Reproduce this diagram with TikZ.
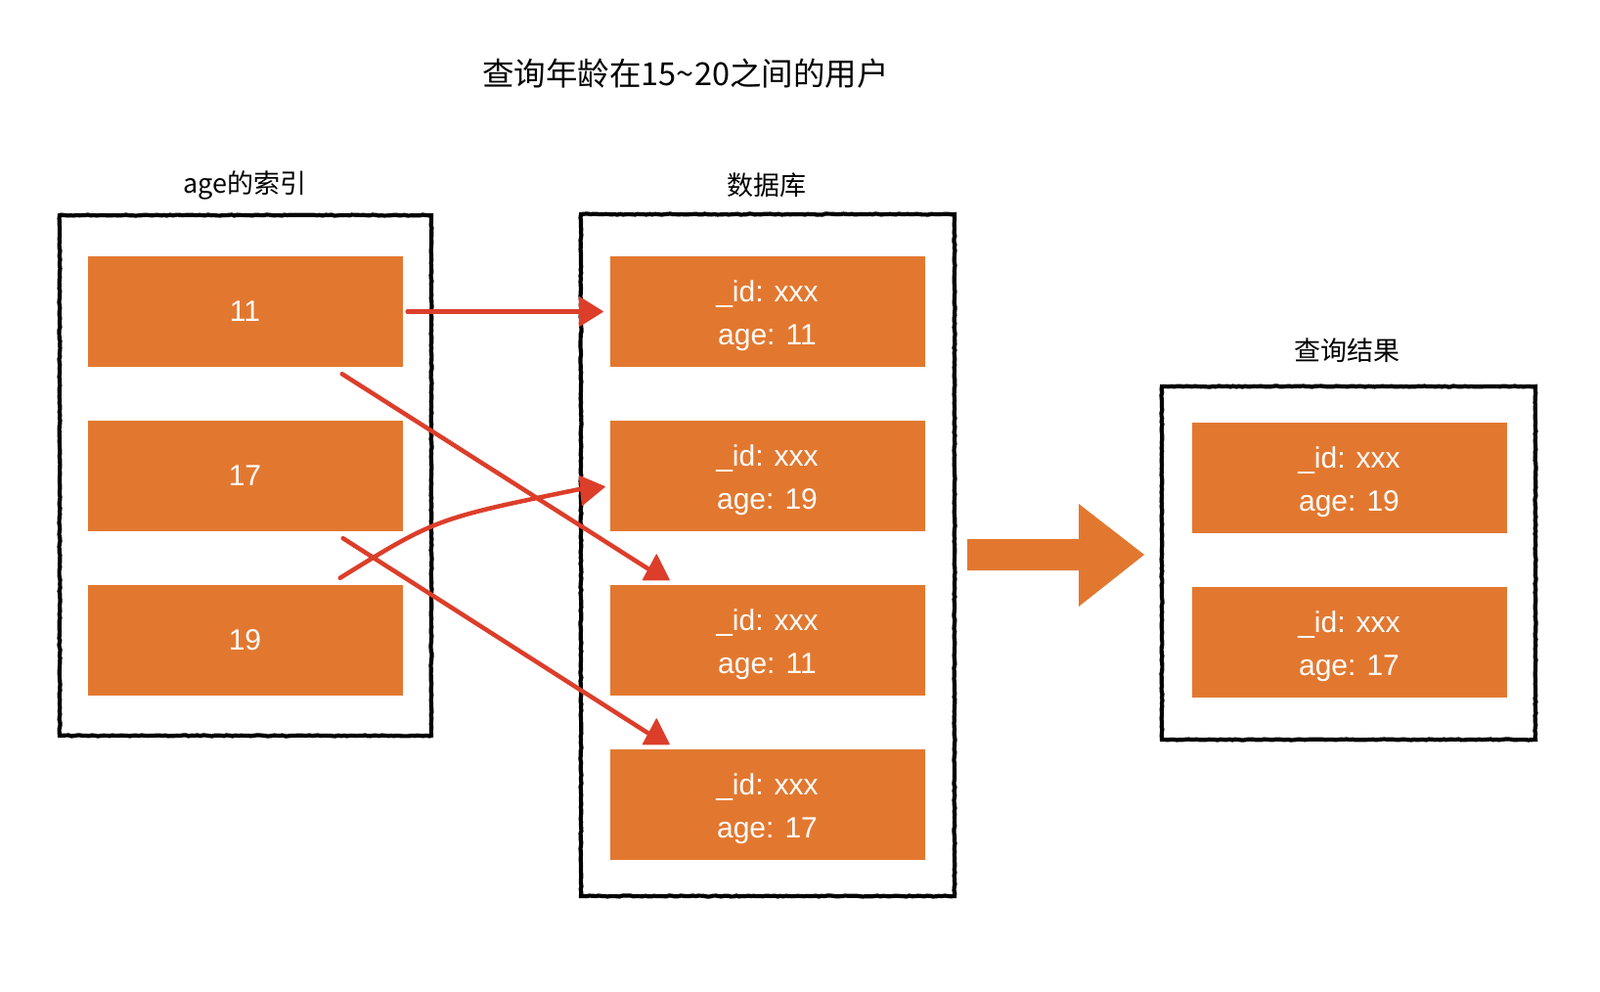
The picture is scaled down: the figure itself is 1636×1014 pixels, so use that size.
\documentclass[tikz,border=0pt]{standalone}
\usepackage{fontspec}
\setmainfont{Liberation Sans}
\newfontfamily\cjk{Noto Sans CJK SC}
\usetikzlibrary{calc,decorations.pathmorphing,arrows.meta}
\definecolor{boxorange}{RGB}{226,120,48}
\definecolor{arrowred}{RGB}{220,62,42}
\newcommand\lowstrut{\rule{0pt}{30pt}}
\begin{document}
\begin{tikzpicture}[x=1pt,y=-1pt,
  rec/.style={fill=boxorange, minimum width=322, minimum height=113, inner sep=0pt,
    text=white, font=\fontsize{30}{44}\selectfont, align=center},
  frame/.style={draw=black, line width=4.2, inner sep=0pt, decorate,
    decoration={random steps, segment length=3pt, amplitude=0.5pt}},
  lbl/.style={font=\cjk\fontsize{27}{30}\selectfont, text=black},
  redline/.style={draw=arrowred, line width=4.5, line cap=round},
  redhead/.style={fill=arrowred, draw=arrowred, line width=1, line join=round}]
\useasboundingbox (0,0) rectangle (1636,1014);
% title
\node[font=\cjk\fontsize{32.5}{36}\selectfont] (title) at (701,75) {查询年龄在15{\char"7E}20之间的用户};
% frames
\node[frame, minimum width=380, minimum height=532] (fidx) at (251,486) {};
\node[frame, minimum width=382, minimum height=697] (fdb) at (785,567.5) {};
\node[frame, minimum width=382, minimum height=361] (fres) at (1379,575.5) {};
% labels
\node[lbl] (lidx) at (250,189) {age的索引};
\node[lbl] (ldb) at (784,189) {数据库};
\node[lbl] (lres) at (1377,358) {查询结果};
% index boxes
\node[rec] (i11) at (250.5,318.5) {11};
\node[rec] (i17) at (250.5,486.5) {17};
\node[rec] (i19) at (250.5,654.5) {19};
% db boxes
\node[rec] (d1) at (784.5,318.5) {\lowstrut\_id: xxx\\age: 11};
\node[rec] (d2) at (784.5,486.5) {\lowstrut\_id: xxx\\age: 19};
\node[rec] (d3) at (784.5,654.5) {\lowstrut\_id: xxx\\age: 11};
\node[rec] (d4) at (784.5,822.5) {\lowstrut\_id: xxx\\age: 17};
% result boxes
\node[rec] (r1) at (1379.5,488.5) {\lowstrut\_id: xxx\\age: 19};
\node[rec] (r2) at (1379.5,656.5) {\lowstrut\_id: xxx\\age: 17};
% big arrow
\fill[boxorange] (989,551) -- (1103,551) -- (1103,515) -- (1170,567)
  -- (1103,620) -- (1103,583) -- (989,583) -- cycle;
% coordinates
\coordinate (s1) at ($(i11.east)+(5,0)$);
\coordinate (e1) at ($(d1.west)+(-31,0)$);
\coordinate (s2) at ($(i11.south east)+(-62,7)$);
\coordinate (e2) at ($(d3.north west)+(40,-16)$);
\coordinate (s3) at ($(i19.north east)+(-64,-7)$);
\coordinate (e3) at ($(d2.west)+(-28,13)$);
\coordinate (s4) at ($(i17.south east)+(-61,7)$);
\coordinate (e4) at ($(d4.north west)+(40,-16)$);
% red arrows
\draw[redline] (s1) -- (e1);
\fill[redhead] (e1) ++(0,-15) -- ++(24,15) -- ++(-24,15) -- cycle;
\draw[redline] (s2) -- (e2);
\filldraw[redhead] ($(e2)+(8,-15)$) -- ($(e2)+(-6,11)$) -- ($(e2)+(21,11)$) -- cycle;
\draw[redline] (s3) .. controls (446,530) .. (e3);
\filldraw[redhead] ($(e3)+(-3,-13)$) -- ($(e3)+(23,-2)$) -- ($(e3)+(0,17)$) -- cycle;
\draw[redline] (s4) -- (e4);
\filldraw[redhead] ($(e4)+(8,-15)$) -- ($(e4)+(-6,11)$) -- ($(e4)+(21,11)$) -- cycle;
\end{tikzpicture}
\end{document}
